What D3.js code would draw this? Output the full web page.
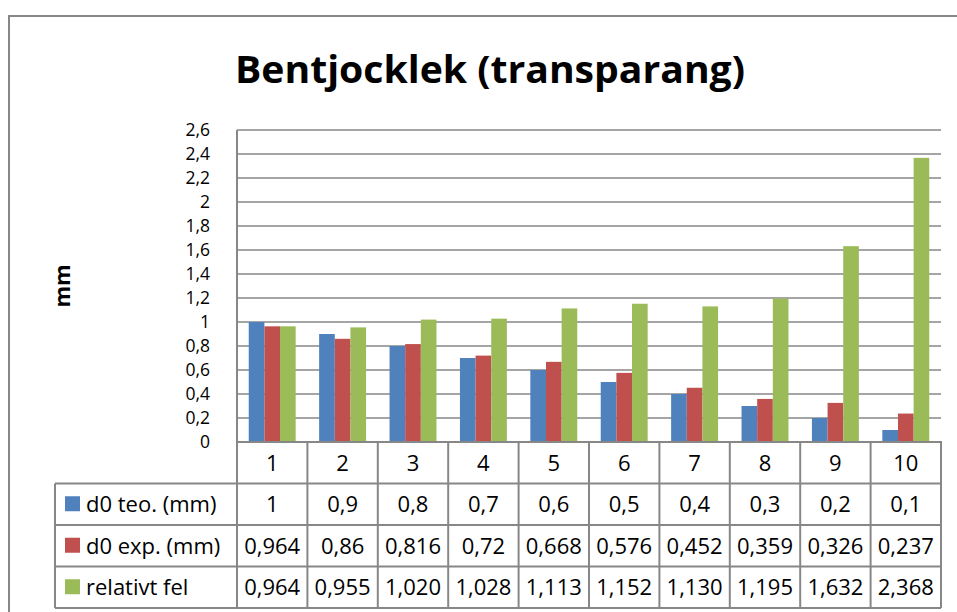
<!DOCTYPE html>
<html>
<head>
<meta charset="utf-8">
<script src="https://cdn.jsdelivr.net/npm/d3@7"></script>
<style>
  body { margin: 0; background: #fff; }
  text { font-family: "Open Sans", "DejaVu Sans", sans-serif; fill: #000; }
</style>
</head>
<body>
<div id="chart"></div>
<script>
// values
const categories = ["1", "2", "3", "4", "5", "6", "7", "8", "9", "10"];
const seriesNames = ["d0 teo. (mm)", "d0 exp. (mm)", "relativt fel"];
const teo = [1, 0.9, 0.8, 0.7, 0.6, 0.5, 0.4, 0.3, 0.2, 0.1];
const exp = [0.964, 0.86, 0.816, 0.72, 0.668, 0.576, 0.452, 0.359, 0.326, 0.237];
const relFel = [0.964, 0.955, 1.020, 1.028, 1.113, 1.152, 1.130, 1.195, 1.632, 2.368];
const colors = ["#4F81BD", "#C0504D", "#9BBB59"];
const yTicks = [0, 0.2, 0.4, 0.6, 0.8, 1, 1.2, 1.4, 1.6, 1.8, 2, 2.2, 2.4, 2.6];

const width = 957, height = 612;
const plot = { left: 237, right: 941, top: 130, bottom: 442 };
const rowH = 41.5;
const legendLeft = 55;
const gridColor = "#878787";

const svg = d3.select("#chart")
    .append("svg")
    .attr("width", width)
    .attr("height", height);

// outer chart border (runs off the right/bottom)
svg.append("path")
    .attr("d", `M9,${height + 5} L9,16 L${width + 5},16`)
    .attr("fill", "none")
    .attr("stroke", gridColor)
    .attr("stroke-width", 2);

// title
svg.append("text")
    .attr("x", 490)
    .attr("y", 83)
    .attr("text-anchor", "middle")
    .attr("font-size", 38)
    .attr("font-weight", "bold")
    .attr("textLength", 510)
    .attr("lengthAdjust", "spacingAndGlyphs")
    .text("Bentjocklek (transparang)");

const xScale = d3.scaleBand()
    .domain(categories)
    .range([plot.left, plot.right]);

const xInner = d3.scaleBand()
    .domain(d3.range(seriesNames.length))
    .range([0, xScale.bandwidth()])
    .paddingOuter(0.75);

const yScale = d3.scaleLinear()
    .domain([0, 2.6])
    .range([plot.bottom, plot.top]);

// gridlines
svg.append("g")
    .selectAll("line")
    .data(yTicks)
    .join("line")
        .attr("x1", plot.left)
        .attr("x2", plot.right)
        .attr("y1", d => yScale(d))
        .attr("y2", d => yScale(d))
        .attr("stroke", gridColor)
        .attr("stroke-width", 1.6);

// y axis labels
const yAxis = svg.append("g")
    .attr("transform", `translate(${plot.left},0)`)
    .call(d3.axisLeft(yScale)
        .tickValues(yTicks)
        .tickSize(0)
        .tickPadding(27)
        .tickFormat(d => String(d).replace(".", ",")));
yAxis.select(".domain").remove();
yAxis.selectAll("text")
    .attr("font-size", 17.5)
    .attr("font-family", "\"Open Sans\", sans-serif")
    .attr("fill", "#000");

// y axis title
svg.append("text")
    .attr("transform", `translate(70,${(plot.top + plot.bottom) / 2}) rotate(-90)`)
    .attr("text-anchor", "middle")
    .attr("font-size", 22)
    .attr("font-weight", "bold")
    .text("mm");

// bars
const seriesData = [teo, exp, relFel];
seriesData.forEach(function(values, s) {
    svg.append("g")
        .selectAll("rect")
        .data(values)
        .join("rect")
            .attr("x", (d, i) => xScale(categories[i]) + xInner(s))
            .attr("y", d => yScale(d))
            .attr("width", xInner.bandwidth())
            .attr("height", d => yScale(0) - yScale(d))
            .attr("fill", colors[s]);
});

// data table
const table = svg.append("g");
const tableBottom = plot.bottom + rowH * 4;

// left axis line through table
table.append("line")
    .attr("x1", plot.left).attr("x2", plot.left)
    .attr("y1", plot.top).attr("y2", tableBottom)
    .attr("stroke", gridColor).attr("stroke-width", 2);

// column separators
table.selectAll(".col")
    .data(categories)
    .join("line")
        .attr("class", "col")
        .attr("x1", d => xScale(d) + xScale.bandwidth())
        .attr("x2", d => xScale(d) + xScale.bandwidth())
        .attr("y1", plot.bottom)
        .attr("y2", tableBottom)
        .attr("stroke", gridColor)
        .attr("stroke-width", 2);

// row lines
table.selectAll(".row")
    .data(d3.range(4))
    .join("line")
        .attr("class", "row")
        .attr("x1", legendLeft)
        .attr("x2", plot.right)
        .attr("y1", i => plot.bottom + rowH * (i + 1))
        .attr("y2", i => plot.bottom + rowH * (i + 1))
        .attr("stroke", gridColor)
        .attr("stroke-width", 2);

table.append("line")
    .attr("x1", plot.left - 1).attr("x2", plot.right + 1)
    .attr("y1", plot.bottom).attr("y2", plot.bottom)
    .attr("stroke", gridColor).attr("stroke-width", 2);

table.append("line")
    .attr("x1", legendLeft).attr("x2", legendLeft)
    .attr("y1", plot.bottom + rowH).attr("y2", tableBottom)
    .attr("stroke", gridColor).attr("stroke-width", 2);

// header row: category numbers
table.selectAll(".cat")
    .data(categories)
    .join("text")
        .attr("class", "cat")
        .attr("x", d => xScale(d) + xScale.bandwidth() / 2)
        .attr("y", plot.bottom + rowH / 2)
        .attr("dy", "0.36em")
        .attr("text-anchor", "middle")
        .attr("font-size", 22)
        .text(d => d);

const fmt = [
    d => String(d).replace(".", ","),
    d => String(d).replace(".", ","),
    d => d3.format(".3f")(d).replace(".", ",")
];

seriesData.forEach(function(values, s) {
    const cy = plot.bottom + rowH * (s + 1) + rowH / 2;

    table.append("rect")
        .attr("x", 65)
        .attr("y", cy - 8)
        .attr("width", 15)
        .attr("height", 15)
        .attr("fill", colors[s]);

    table.append("text")
        .attr("x", 86)
        .attr("y", cy)
        .attr("dy", "0.36em")
        .attr("font-size", 22)
        .text(seriesNames[s]);

    table.append("g")
        .selectAll("text")
        .data(values)
        .join("text")
            .attr("x", (d, i) => xScale(categories[i]) + xScale.bandwidth() / 2)
            .attr("y", cy)
            .attr("dy", "0.36em")
            .attr("text-anchor", "middle")
            .attr("font-size", 22)
            .text(fmt[s]);
});
</script>
</body>
</html>
